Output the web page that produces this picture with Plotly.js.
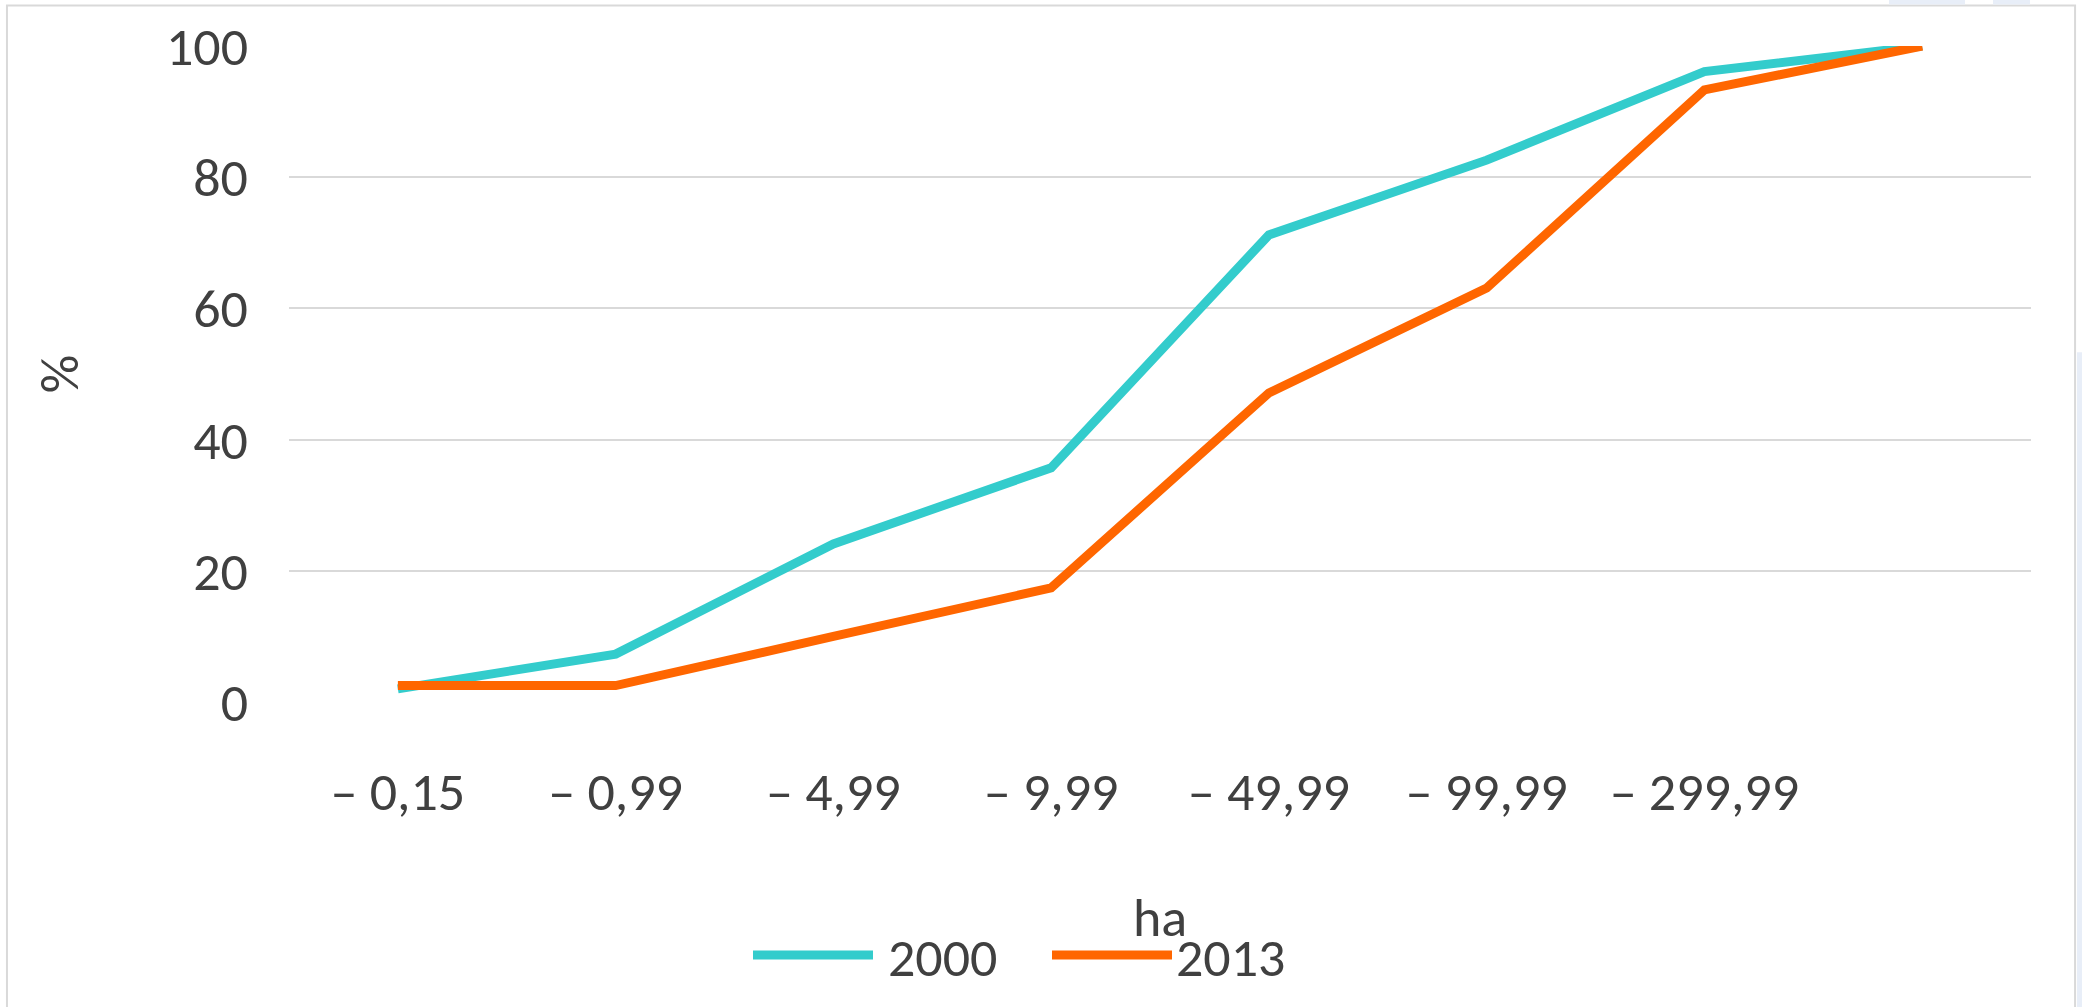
<!DOCTYPE html>
<html>
<head>
<meta charset="utf-8">
<script src="https://cdn.plot.ly/plotly-3.0.1.min.js"></script>
<style>html,body{margin:0;padding:0;background:#fff;}#chart{width:2082px;height:1007px;}</style>
</head>
<body>
<div id="chart"></div>
<script>
const categories = ["– 0,15", "– 0,99", "– 4,99", "– 9,99", "– 49,99", "– 99,99", "– 299,99", " "];
const series2000 = [2.0, 7.3, 24.1, 35.7, 71.2, 82.6, 96.1, 100];
const series2013 = [2.5, 2.5, 10.0, 17.4, 47.1, 63.1, 93.3, 100];
const seriesNames = ["2000", "2013"];
const yTicks = [0, 20, 40, 60, 80, 100];

const FONT = "Carlito, 'Liberation Sans Narrow', 'Open Sans', sans-serif";
const FS = 54;
const TXT = "#404040";
const C1 = "#33CCCC", C2 = "#FF6600";

const traces = [
  {x: categories, y: series2000, name: seriesNames[0], type: "scatter", mode: "lines",
   line: {color: C1, width: 9}},
  {x: categories, y: series2013, name: seriesNames[1], type: "scatter", mode: "lines",
   line: {color: C2, width: 9}}
];

const layout = {
  width: 2082, height: 1007,
  margin: {l: 289, r: 51, t: 46, b: 305},
  paper_bgcolor: "#ffffff", plot_bgcolor: "#ffffff",
  font: {family: FONT, size: FS, color: TXT},
  showlegend: false,
  xaxis: {
    type: "category", categoryorder: "array", categoryarray: categories,
    range: [-0.5, 7.5], showgrid: false, zeroline: false, showline: false,
    ticks: "", ticklabelstandoff: 53, tickfont: {family: FONT, size: FS, color: TXT},
    title: {text: "ha", standoff: 74, font: {family: FONT, size: FS, color: TXT}},
    automargin: false, fixedrange: true
  },
  yaxis: {
    range: [0, 100], tickvals: yTicks, ticktext: yTicks.map(String),
    showgrid: true, gridcolor: "#d9d9d9", gridwidth: 2,
    zeroline: false, showline: false, ticks: "", ticklabelstandoff: 40,
    tickfont: {family: FONT, size: FS, color: TXT},
    title: {text: "%", standoff: 69, font: {family: FONT, size: FS, color: TXT}},
    automargin: false, fixedrange: true
  },
  shapes: [
    {type: "rect", xref: "paper", yref: "paper", x0: -0.1619, x1: 1.0253, y0: -0.6, y1: 1.0619,
     line: {color: "#d9d9d9", width: 2}, fillcolor: "rgba(0,0,0,0)", layer: "below"},
    {type: "rect", xref: "paper", yref: "paper", x0: (1889-289)/1742, x1: (1965-289)/1742, y0: (701-5)/654.5, y1: (701-0)/654.5,
     line: {width: 0}, fillcolor: "#e8eef8"},
    {type: "rect", xref: "paper", yref: "paper", x0: (1993-289)/1742, x1: (2030-289)/1742, y0: (701-5)/654.5, y1: (701-0)/654.5,
     line: {width: 0}, fillcolor: "#e8eef8"},
    {type: "rect", xref: "paper", yref: "paper", x0: (2077-289)/1742, x1: (2082-289)/1742, y0: (701-1007)/654.5, y1: (701-352)/654.5,
     line: {width: 0}, fillcolor: "#e8eef8"},
    {type: "line", xref: "paper", yref: "paper", x0: (753-289)/1742, x1: (873-289)/1742, y0: (701-953.5)/654.5, y1: (701-953.5)/654.5,
     line: {color: C1, width: 9}},
    {type: "line", xref: "paper", yref: "paper", x0: (1052-289)/1742, x1: (1172-289)/1742, y0: (701-953.5)/654.5, y1: (701-953.5)/654.5,
     line: {color: C2, width: 9}}
  ],
  annotations: [
    {text: seriesNames[0], xref: "paper", yref: "paper", x: (886-289)/1742, y: (701-956)/654.5, xanchor: "left", yanchor: "middle",
     showarrow: false, font: {family: FONT, size: FS, color: TXT}},
    {text: seriesNames[1], xref: "paper", yref: "paper", x: (1174-289)/1742, y: (701-956)/654.5, xanchor: "left", yanchor: "middle",
     showarrow: false, font: {family: FONT, size: FS, color: TXT}}
  ]
};

Plotly.newPlot("chart", traces, layout, {displayModeBar: false, staticPlot: true});
</script>
</body>
</html>
